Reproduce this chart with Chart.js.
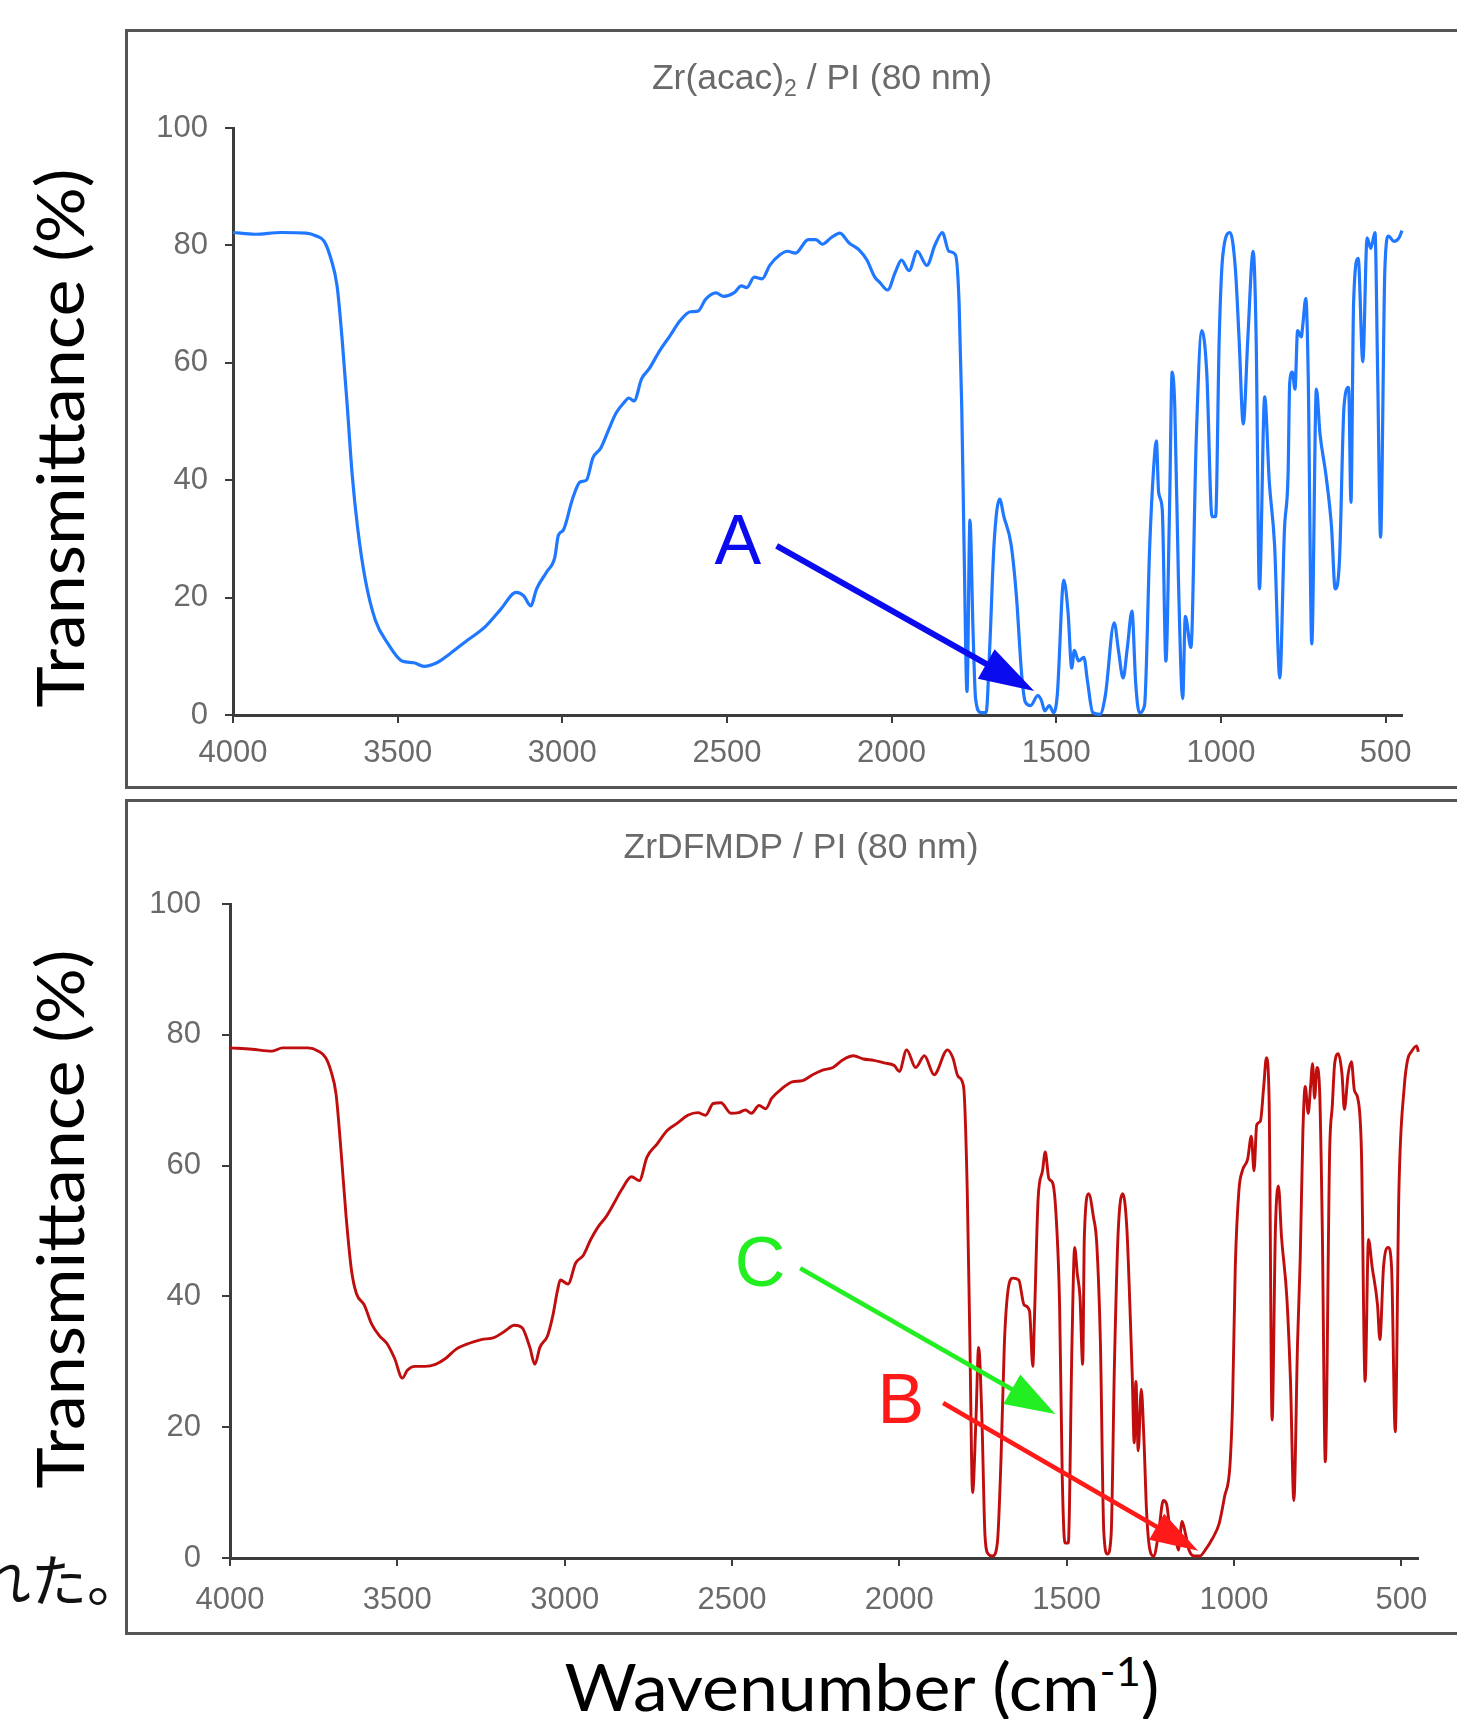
<!DOCTYPE html>
<html>
<head>
<meta charset="utf-8">
<script src="https://cdn.jsdelivr.net/npm/chart.js@4.4.1/dist/chart.umd.min.js"></script>
<style>
  html, body { margin: 0; padding: 0; width: 1457px; height: 1719px; overflow: hidden; background: #fff; }
  .panel { position: absolute; left: 125px; width: 1400px; border: 3px solid #555; box-sizing: border-box; }
  canvas { position: absolute; }
  .big { position: absolute; font-family: Lato, "Open Sans", sans-serif; color: #000; white-space: nowrap; line-height: 1; transform-origin: 50% 50%; }
  .big sup { font-size: 0.62em; vertical-align: 0.62em; line-height: 0; }
  .jp { position: absolute; left: -25px; top: 1549px; font: 56px/56px "Noto Sans CJK JP", sans-serif; color: #111; white-space: nowrap; }
</style>
</head>
<body>
<div class="panel" style="top:29px;height:760px"></div>
<div class="panel" style="top:799px;height:836px"></div>
<canvas id="topChart" width="1331" height="758" style="left:126px;top:30px"></canvas>
<canvas id="botChart" width="1331" height="833" style="left:126px;top:800px"></canvas>
<div class="big" id="ylab1">Transmittance (%)</div>
<div class="big" id="ylab2">Transmittance (%)</div>
<div class="big" id="xlab">Wavenumber (cm<sup>-1</sup>)</div>
<div class="jp">れた。</div>
<script>
const xTicks = [4000, 3500, 3000, 2500, 2000, 1500, 1000, 500];
const yTicks = [0, 20, 40, 60, 80, 100];

// Zr(acac)2 / PI spectrum (wavenumber, transmittance %)
const topWn = [4000, 3933, 3855, 3778, 3747, 3723, 3703, 3684, 3669, 3653, 3638, 3622, 3599, 3568, 3529, 3487,
  3451, 3420, 3381, 3342, 3296, 3233, 3187, 3140, 3117, 3096, 3078, 3047, 3023, 3012, 2997, 2969, 2946, 2927,
  2907, 2883, 2860, 2837, 2813, 2798, 2782, 2759, 2736, 2705, 2673, 2642, 2611, 2588, 2565, 2533, 2510, 2479,
  2456, 2440, 2417, 2393, 2370, 2339, 2316, 2292, 2253, 2230, 2210, 2184, 2157, 2129, 2098, 2075, 2051, 2036,
  2012, 1989, 1970, 1947, 1922, 1893, 1868, 1846, 1826, 1806, 1795, 1787, 1780, 1771, 1762, 1753, 1745, 1729,
  1713, 1702, 1689, 1672, 1659, 1637, 1621, 1605, 1594, 1578, 1556, 1545, 1535, 1521, 1508, 1497, 1477, 1464,
  1453, 1445, 1432, 1416, 1405, 1389, 1367, 1351, 1324, 1311, 1297, 1284, 1270, 1259, 1248, 1232, 1216, 1205,
  1196, 1189, 1178, 1167, 1156, 1148, 1140, 1129, 1116, 1108, 1091, 1075, 1058, 1043, 1027, 1016, 1005, 994,
  972, 956, 945, 932, 918, 902, 893, 883, 867, 853, 837, 821, 807, 796, 791, 783, 775, 767, 756, 751, 742, 735,
  724, 710, 699, 681, 664, 653, 640, 626, 612, 605, 597, 583, 569, 556, 545, 532, 524, 515, 502, 491, 475, 459, 450];
const topT = [82.2, 81.9, 82.2, 82.1, 81.6, 80.7, 77.8, 73.1, 64.3, 52.6, 40.9, 32.1, 23.3, 16.2, 12.1, 9.2,
  8.9, 8.3, 8.9, 10.4, 12.4, 15.1, 18.0, 20.9, 20.3, 18.6, 21.5, 24.4, 26.8, 30.6, 31.5, 36.8, 39.7, 40.0,
  43.8, 45.5, 48.5, 51.4, 53.2, 54.0, 53.5, 57.3, 59.0, 62.0, 64.6, 67.2, 68.7, 68.8, 70.8, 71.9, 71.3, 71.9,
  73.1, 72.8, 74.6, 74.3, 76.6, 78.4, 79.0, 78.7, 81.0, 81.0, 80.2, 81.3, 82.1, 80.4, 79.2, 77.5, 74.6, 73.7,
  72.4, 75.4, 77.5, 75.7, 79.0, 76.6, 80.1, 82.2, 79.0, 78.4, 70.2, 52.6, 29.0, 4.0, 33.2, 15.0, 2.8, 0.4,
  0.4, 11.5, 29.0, 36.8, 33.8, 29.0, 20.3, 6.9, 2.2, 1.6, 3.3, 2.5, 0.7, 1.6, 0.4, 3.3, 23.0, 17.4,
  8.0, 11.0, 9.2, 9.8, 5.7, 0.4, 0.1, 3.3, 15.7, 11.0, 6.3, 11.5, 17.7, 5.7, 0.4, 1.6, 29.0, 41.4,
  46.7, 37.9, 35.0, 9.2, 35.0, 58.4, 52.5, 23.3, 2.8, 16.8, 11.5, 46.7, 65.5, 58.4, 33.8, 33.8, 64.4, 78.4,
  82.2, 76.0, 64.4, 49.6, 64.4, 79.0, 64.4, 21.5, 54.2, 39.7, 29.0, 6.3, 31.5, 40.9, 56.6, 58.4, 55.5, 65.5, 64.4, 66.6, 71.0, 58.4,
  12.1, 55.5, 47.9, 40.9, 32.0, 21.5, 26.2, 52.6, 55.8, 36.2, 70.2, 77.8, 60.2, 81.3, 79.5, 82.2, 58.4, 30.3, 76.0, 81.6, 80.7, 81.3, 82.5];

// ZrDFMDP / PI spectrum
const botWn = [4000, 3935, 3874, 3843, 3767, 3736, 3714, 3698, 3683, 3668, 3653, 3637, 3622, 3599, 3577, 3554,
  3531, 3508, 3485, 3470, 3447, 3417, 3386, 3356, 3325, 3287, 3249, 3211, 3181, 3150, 3127, 3104, 3089, 3074,
  3051, 3036, 3021, 3013, 2990, 2967, 2944, 2922, 2899, 2876, 2853, 2830, 2800, 2777, 2754, 2724, 2693, 2663,
  2632, 2602, 2579, 2556, 2533, 2503, 2480, 2460, 2442, 2419, 2399, 2381, 2350, 2320, 2289, 2259, 2229, 2198,
  2168, 2137, 2107, 2076, 2046, 2015, 2000, 1978, 1951, 1925, 1896, 1856, 1840, 1824, 1808, 1797, 1789, 1781,
  1771, 1763, 1753, 1744, 1734, 1721, 1707, 1696, 1686, 1675, 1661, 1643, 1627, 1611, 1601, 1596, 1585, 1572,
  1564, 1553, 1542, 1532, 1521, 1513, 1505, 1495, 1484, 1476, 1468, 1460, 1452, 1447, 1434, 1420, 1410, 1399,
  1389, 1378, 1367, 1357, 1346, 1332, 1320, 1311, 1304, 1298, 1293, 1286, 1277, 1269, 1261, 1251, 1240, 1226,
  1211, 1201, 1190, 1176, 1166, 1155, 1144, 1134, 1118, 1102, 1086, 1065, 1044, 1028, 1012, 1004, 996, 985,
  975, 959, 948, 940, 932, 921, 911, 903, 895, 886, 876, 867, 858, 842, 831, 821, 810, 802, 794, 787, 778,
  771, 765, 759, 752, 744, 736, 727, 714, 706, 699, 688, 677, 670, 659, 649, 640, 630, 619, 608, 598, 587,
  571, 564, 553, 539, 529, 518, 507, 491, 481, 470, 454, 449];
const botT = [78.0, 77.8, 77.5, 78.0, 78.0, 77.5, 76.5, 74.4, 70.9, 62.1, 52.2, 44.0, 40.4, 38.7, 35.8, 34.0,
  32.8, 30.5, 27.5, 28.7, 29.3, 29.3, 29.6, 30.5, 31.9, 32.8, 33.4, 33.7, 34.6, 35.6, 35.2, 32.2, 29.6, 32.2,
  34.0, 36.9, 41.0, 42.5, 41.9, 45.1, 46.3, 48.7, 50.7, 52.2, 54.2, 56.3, 58.3, 57.7, 61.3, 63.3, 65.4, 66.5,
  67.7, 68.1, 67.7, 69.5, 69.6, 68.0, 68.1, 68.5, 68.0, 69.2, 68.7, 70.3, 71.8, 72.8, 73.0, 73.9, 74.6, 75.0,
  76.2, 76.8, 76.3, 76.1, 75.7, 75.3, 74.4, 77.7, 75.0, 76.8, 73.9, 77.7, 76.5, 73.6, 72.1, 56.3, 32.8, 10.0,
  21.1, 32.2, 21.1, 3.5, 0.6, 0.3, 2.3, 15.2, 32.8, 41.0, 42.8, 42.5, 38.7, 37.8, 29.3, 36.9, 55.1, 59.2,
  62.1, 58.0, 57.4, 52.8, 38.7, 12.3, 2.3, 2.3, 32.8, 47.5, 43.4, 39.9, 29.6, 49.2, 55.7, 52.2, 48.1, 32.8,
  4.1, 0.6, 3.5, 29.9, 49.8, 55.7, 50.4, 38.7, 28.1, 17.6, 27.0, 16.4, 25.8, 18.2, 7.0, 1.2, 0.3, 3.5,
  8.8, 8.2, 4.1, 3.5, 1.2, 5.6, 3.5, 1.2, 0.3, 0.3, 1.2, 2.9, 5.3, 9.4, 14.1, 24.0, 44.5, 56.3,
  59.2, 61.0, 64.5, 59.2, 66.2, 66.8, 72.1, 76.5, 70.3, 21.1, 50.4, 56.9, 49.2, 39.9, 27.0, 8.8, 32.8, 45.7, 65.1, 72.1, 68.0,
  72.1, 75.6, 70.3, 75.0, 71.5, 50.4, 14.7, 62.1, 69.2, 75.6, 77.1, 73.9, 68.6, 73.9, 75.9, 71.5, 70.3, 62.1, 27.0, 48.7, 44.5,
  38.7, 33.4, 44.5, 47.5, 44.5, 19.3, 56.3, 72.1, 76.2, 77.4, 78.3, 77.4];

// panel titles (subscript parts marked)
const topTitle = [["Zr(acac)", false], ["2", true], [" / PI (80 nm)", false]];
const botTitle = [["ZrDFMDP / PI (80 nm)", false]];

// labelled arrows, in data units [wavenumber, %]
const topMarks = [
  { text: "A", color: "#0b0bf0", at: [2467, 30.0], from: [2349, 28.8], to: [1567, 4.1], lw: 6, head: [55, 17] }
];
const botMarks = [
  { text: "C", color: "#22ee22", at: [2416, 45.4], from: [2296, 44.3], to: [1534, 22.0], lw: 4.5, head: [50, 17] },
  { text: "B", color: "#ff1a1a", at: [1995, 24.5], from: [1869, 23.7], to: [1107, 1.1], lw: 4.5, head: [48, 15] }
];

const panelText = {
  id: "panelText",
  afterDatasetsDraw(chart, args, opts) {
    const ctx = chart.ctx, xs = chart.scales.x, ys = chart.scales.y;
    ctx.save();
    // title
    ctx.fillStyle = "#6a6a6a";
    ctx.textBaseline = "alphabetic";
    ctx.textAlign = "left";
    const big = '35.5px "Liberation Sans", Arial, sans-serif', small = '23px "Liberation Sans", Arial, sans-serif';
    let w = 0;
    opts.title.forEach(([t, sub]) => { ctx.font = sub ? small : big; w += ctx.measureText(t).width; });
    let x = opts.titleX - w / 2;
    opts.title.forEach(([t, sub]) => {
      ctx.font = sub ? small : big;
      ctx.fillText(t, x, opts.titleY + (sub ? 7 : 0));
      x += ctx.measureText(t).width;
    });
    // arrows + letters
    opts.marks.forEach(m => {
      const x0 = xs.getPixelForValue(m.from[0]), y0 = ys.getPixelForValue(m.from[1]);
      const x1 = xs.getPixelForValue(m.to[0]), y1 = ys.getPixelForValue(m.to[1]);
      const ang = Math.atan2(y1 - y0, x1 - x0);
      const [hl, hw] = m.head;
      const bx = x1 - hl * Math.cos(ang), by = y1 - hl * Math.sin(ang);
      ctx.strokeStyle = m.color; ctx.fillStyle = m.color;
      ctx.lineWidth = m.lw; ctx.lineCap = "butt";
      ctx.beginPath(); ctx.moveTo(x0, y0); ctx.lineTo(bx + 4 * Math.cos(ang), by + 4 * Math.sin(ang)); ctx.stroke();
      ctx.beginPath();
      ctx.moveTo(x1, y1);
      ctx.lineTo(bx - hw * Math.sin(ang), by + hw * Math.cos(ang));
      ctx.lineTo(bx + hw * Math.sin(ang), by - hw * Math.cos(ang));
      ctx.closePath(); ctx.fill();
      ctx.font = '70px "Liberation Sans", Arial, sans-serif';
      ctx.textAlign = "center";
      ctx.fillText(m.text, xs.getPixelForValue(m.at[0]), ys.getPixelForValue(m.at[1]) + 25);
    });
    ctx.restore();
  }
};

function makeChart(id, wn, tv, color, lw, L, title, marks) {
  const axisCol = "#3c3c3c", tickCol = "#6a6a6a";
  const tickFont = { family: '"Liberation Sans", Arial, sans-serif', size: 31 };
  return new Chart(document.getElementById(id), {
    type: "line",
    data: {
      datasets: [{
        data: wn.map((x, i) => ({ x: x, y: tv[i] })),
        borderColor: color,
        borderWidth: lw,
        pointRadius: 0,
        cubicInterpolationMode: "monotone",
        fill: false,
        clip: 8
      }]
    },
    options: {
      responsive: false,
      animation: false,
      layout: { padding: { top: L.top, right: L.right, left: 0, bottom: 0 } },
      plugins: {
        legend: { display: false },
        tooltip: { enabled: false },
        panelText: { title: title, titleX: L.titleX, titleY: L.titleY, marks: marks }
      },
      scales: {
        x: {
          type: "linear", reverse: true, min: 450, max: 4000,
          afterBuildTicks: a => { a.ticks = xTicks.map(v => ({ value: v })); },
          afterFit: s => { s.height = L.xh; },
          grid: { drawOnChartArea: false, drawTicks: true, tickLength: 8, color: axisCol, lineWidth: 2 },
          border: { color: axisCol, width: 3 },
          ticks: { color: tickCol, font: tickFont, padding: L.xpad, maxRotation: 0, autoSkip: false, callback: v => String(v) }
        },
        y: {
          min: 0, max: 100,
          afterBuildTicks: a => { a.ticks = yTicks.map(v => ({ value: v })); },
          afterFit: s => { s.width = L.yw; },
          grid: { drawOnChartArea: false, drawTicks: true, tickLength: 8, color: axisCol, lineWidth: 2 },
          border: { color: axisCol, width: 3 },
          ticks: { color: tickCol, font: tickFont, padding: L.ypad, callback: v => String(v) }
        }
      }
    },
    plugins: [panelText]
  });
}

makeChart("topChart", topWn, topT, "#1f78ff", 3.2, { top: 98, right: 55, xh: 73, yw: 107, xpad: 12, ypad: 17, titleX: 696, titleY: 59 }, topTitle, topMarks);
makeChart("botChart", botWn, botT, "#c00d0d", 2.9, { top: 104, right: 39, xh: 75, yw: 104, xpad: 16, ypad: 21, titleX: 675, titleY: 58 }, botTitle, botMarks);

// big slide labels: fit to measured length
function place(id, cx, cy, len, rot) {
  const el = document.getElementById(id);
  const w = el.offsetWidth, h = el.offsetHeight;
  el.style.left = (cx - w / 2) + "px";
  el.style.top = (cy - h / 2) + "px";
  el.style.transform = (rot ? "rotate(-90deg) " : "") + "scaleX(" + (len / w) + ")";
}
["ylab1", "ylab2", "xlab"].forEach(id => { document.getElementById(id).style.fontSize = "66px"; });
place("ylab1", 58, 438, 539, true);
place("ylab2", 58, 1219, 539, true);
place("xlab", 862, 1686, 595, false);
</script>
</body>
</html>
